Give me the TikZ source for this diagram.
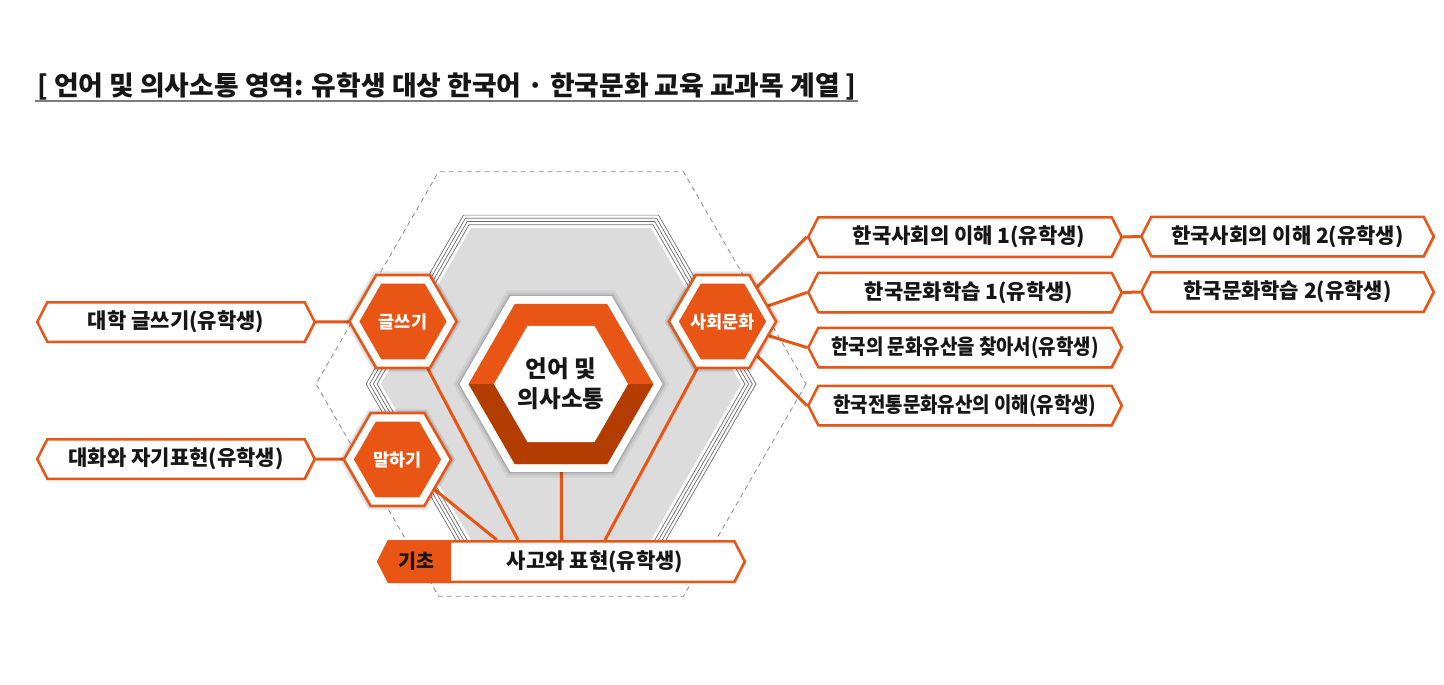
\documentclass[tikz,border=0pt]{standalone}
\usepackage{graphicx}
\usepackage{fontspec}
\setmainfont{Noto Sans CJK KR}
\usetikzlibrary{shapes.symbols,shadows,calc}
\definecolor{org}{HTML}{E95514}
\definecolor{dorg}{HTML}{B33C00}
\definecolor{hexgray}{HTML}{DCDCDC}
\definecolor{linegray}{HTML}{6E6E6E}
\definecolor{dashgray}{HTML}{8C8C8C}
\definecolor{txt}{HTML}{161616}
\newcommand\hexp[2]{($(#1)+(#2,0)$) -- ($(#1)+(0.5*#2,0.8660254*#2)$) -- ($(#1)+(-0.5*#2,0.8660254*#2)$) -- ($(#1)+(-#2,0)$) -- ($(#1)+(-0.5*#2,-0.8660254*#2)$) -- ($(#1)+(0.5*#2,-0.8660254*#2)$) -- cycle}
\newcommand\smallhex[3]{%
  \fill[black,opacity=.10] \hexp{#1}{58};
  \fill[black,opacity=.10] \hexp{#1}{56};
  \filldraw[draw=org, line width=2.5pt, fill=white] \hexp{#1}{53.6};
  \fill[org] \hexp{#1}{43.6};
  \node[hexlabel] (#2) at (#1) {#3};}
\pgfdeclarelayer{back}
\pgfdeclarelayer{mid}
\pgfsetlayers{back,mid,main}
\begin{document}
\begin{tikzpicture}[x=1pt,y=-1pt,
  box/.style={signal, signal to=west and east, signal pointer angle=126,
    draw=org, line width=2.5pt, fill=white, minimum height=39.5pt, inner sep=0pt,
    text=txt, font=\bfseries\fontsize{21}{24}\selectfont,
    drop shadow={shadow xshift=1.5pt, shadow yshift=-1.5pt, fill=black, opacity=.18}},
  hexlabel/.style={text=white, font=\bfseries\fontsize{17.5}{20}\selectfont, inner sep=0pt},
  conn/.style={draw=org, line width=3pt}]
\useasboundingbox (0,0) rectangle (1444,685);
% title
\node[anchor=west, font=\bfseries\fontsize{26.8}{30}\selectfont, inner sep=0pt, text=txt] (title) at (37,86)
  {[ 언어 및 의사소통 영역: 유학생 대상 한국어 · 한국문화 교육 교과목 계열 ]};
\draw[linegray!90, line width=2pt] (35,101) -- (858,101);

\coordinate (C) at (561,384);
\coordinate (GS) at (403,321.5);
\coordinate (MS) at (397.5,459.5);
\coordinate (SH) at (722.5,321.5);

\begin{pgfonlayer}{back}
  \draw[dashgray, line width=.8pt, dash pattern=on 5pt off 4pt] \hexp{C}{245};
  \foreach \r in {195,191.3,187.6,183.9} \draw[linegray, line width=.7pt] \hexp{C}{\r};
  \fill[hexgray] \hexp{C}{180};
\end{pgfonlayer}

% centre hexagon
\fill[black, opacity=.06] \hexp{C}{108};
\fill[black, opacity=.08] \hexp{C}{105};
\fill[black, opacity=.10] \hexp{C}{103};
\fill[white] \hexp{C}{101.5};
\fill[org] \hexp{C}{92.4};
\fill[dorg] ($(C)+(-92.4,0)$) -- ($(C)+(-46.2,80)$) -- ($(C)+(46.2,80)$) -- ($(C)+(92.4,0)$)
  -- ($(C)+(67,0)$) -- ($(C)+(33.5,58)$) -- ($(C)+(-33.5,58)$) -- ($(C)+(-67,0)$) -- cycle;
\fill[white] \hexp{C}{67};
\node[font=\bfseries\fontsize{23.5}{30}\selectfont, align=center, text=txt, inner sep=0pt] (cen) at (C) {언어 및\\의사소통};

% small hexagons
\smallhex{GS}{gs}{글쓰기}
\smallhex{MS}{ms}{말하기}
\smallhex{SH}{sh}{사회문화}

% left boxes
\node[box, minimum width=277.5pt] (bL1) at (176,322) {대학 글쓰기(유학생)};
\node[box, minimum width=277.5pt] (bL2) at (176,459) {대화와 자기표현(유학생)};

% right boxes
\node[box, minimum width=313.5pt] (r1) at (965,237) {\hspace*{8pt}한국사회의 이해 1(유학생)};
\node[box, minimum width=313.5pt] (r2) at (965,292.5) {\hspace*{8pt}한국문화학습 1(유학생)};
\node[box, minimum width=313.5pt] (r3) at (965,347.5) {\scalebox{0.9}[1]{한국의 문화유산을 찾아서(유학생)}};
\node[box, minimum width=313.5pt] (r4) at (965,405.5) {\scalebox{0.9}[1]{한국전통문화유산의 이해(유학생)}};
\node[box, minimum width=292.5pt] (r1b) at (1287.5,236.5) {한국사회의 이해 2(유학생)};
\node[box, minimum width=292.5pt] (r2b) at (1287.5,292) {한국문화학습 2(유학생)};

% bottom bar
\node[box, minimum width=366.5pt, minimum height=40.5pt] (bar) at (561.5,561.5) {};
\fill[org] (378.5,561.5) -- (389,541) -- (451,541) -- (451,582) -- (389,582) -- cycle;
\node[font=\bfseries\fontsize{19.5}{22}\selectfont, text=txt, inner sep=0pt] (jc) at (416,561.5) {기초};
\node[font=\bfseries\fontsize{21}{24}\selectfont, text=txt, inner sep=0pt] (sg) at (595,561.5) {사고와 표현(유학생)};

% connectors
\begin{pgfonlayer}{mid}
  \draw[conn] (bL1.east) -- (gs.center);
  \draw[conn] (bL2.east) -- (ms.center);
  \draw[conn] (sh.center) -- (r1.west);
  \draw[conn] (sh.center) -- (r2.west);
  \draw[conn] (sh.center) -- (r3.west);
  \draw[conn] (sh.center) -- (r4.west);
  \draw[conn] (r1.east) -- (r1b.west);
  \draw[conn] (r2.east) -- (r2b.west);
  \draw[conn] (gs.center) -- ([xshift=-43.5pt]bar.north);
  \draw[conn] (ms.center) -- ([xshift=-64.5pt]bar.north);
  \draw[conn] (cen.center) -- (bar.north);
  \draw[conn] (sh.center) -- ([xshift=43.5pt]bar.north);
\end{pgfonlayer}
\end{tikzpicture}
\end{document}
